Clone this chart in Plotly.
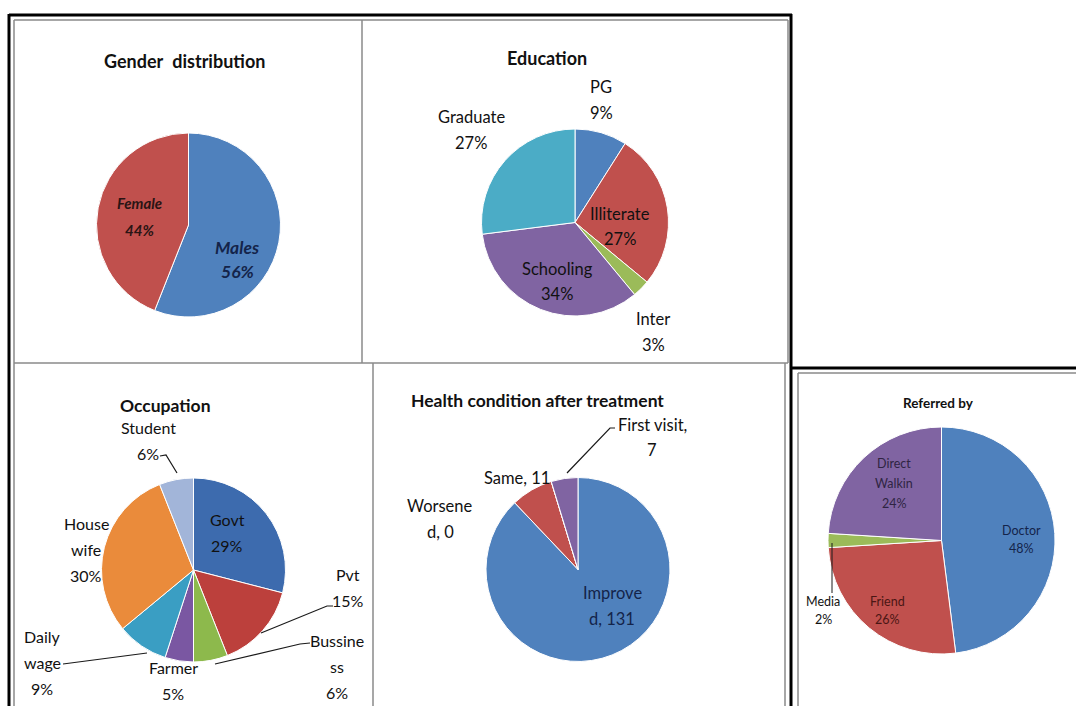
import plotly.graph_objects as go

W, H = 1076, 706
FONT = "Lato"

# ---- data ----
gender_labels = ["Males", "Female"]
gender_values = [56, 44]

edu_labels = ["PG", "Illiterate", "Inter", "Schooling", "Graduate"]
edu_values = [9, 27, 3, 34, 27]

occ_labels = ["Govt", "Pvt", "Bussiness", "Farmer", "Daily wage", "House wife", "Student"]
occ_values = [29, 15, 6, 5, 9, 30, 6]

health_labels = ["Improved", "Same", "Worsened", "First visit"]
health_values = [131, 11, 0, 7]

ref_labels = ["Doctor", "Friend", "Media", "Direct Walkin"]
ref_values = [48, 26, 2, 24]

# ---- colours ----
BLUE, RED, GREEN, PURPLE, AQUA, ORANGE = "#4F81BD", "#C0504D", "#9BBB59", "#8064A2", "#4BACC6", "#F79646"
gender_colors = [BLUE, RED]
edu_colors = [BLUE, RED, GREEN, PURPLE, AQUA]
occ_colors = ["#3D6BAE", "#BC403C", "#8DB94C", "#7A57A2", "#3A9EC3", "#EA8B3B", "#A2B5D9"]
health_colors = [BLUE, RED, GREEN, PURPLE]
ref_colors = [BLUE, RED, GREEN, PURPLE]
TEXT = "#111111"


def X(px):
    return px / W


def Y(py):
    return 1 - py / H


def domain(cx, cy, d):
    return dict(x=[X(cx - d / 2), X(cx + d / 2)], y=[Y(cy + d / 2), Y(cy - d / 2)])


fig = go.Figure()


def add_pie(labels, values, colors, cx, cy, d, line_color="white", line_width=1):
    fig.add_trace(go.Pie(
        labels=labels, values=values, sort=False, direction="clockwise", rotation=0,
        marker=dict(colors=colors, line=dict(color=line_color, width=line_width)),
        textinfo="none", hoverinfo="label+value+percent",
        domain=domain(cx, cy, d), showlegend=False,
    ))


def text_block(lines, cx, cy, size, spacing, color=TEXT, bold=False, italic=False):
    n = len(lines)
    for i, ln in enumerate(lines):
        t = ln
        if bold:
            t = f"<b>{t}</b>"
        if italic:
            t = f"<i>{t}</i>"
        yy = cy + (i - (n - 1) / 2) * spacing
        fig.add_annotation(x=X(cx), y=Y(yy), xref="paper", yref="paper", text=t,
                           showarrow=False, xanchor="center", yanchor="middle",
                           font=dict(family=FONT, size=size, color=color))


def split_word(name, at):
    return [name[:at], name[at:]]


def line(pts, color="#1a1a1a", width=1.2):
    path = "M " + " L ".join(f"{X(a)},{Y(b)}" for a, b in pts)
    fig.add_shape(type="path", path=path, xref="paper", yref="paper",
                  line=dict(color=color, width=width))


def seg(x0, y0, x1, y1, color, width):
    fig.add_shape(type="line", xref="paper", yref="paper",
                  x0=X(x0), y0=Y(y0), x1=X(x1), y1=Y(y1),
                  line=dict(color=color, width=width))


# ---- frames ----
GREY = "#8a8a8a"
seg(14, 20, 788, 20, GREY, 1.5)
seg(14, 20, 14, 706, GREY, 1.5)
seg(788, 20, 788, 363, GREY, 1.5)
seg(362, 20, 362, 363, GREY, 1.5)
seg(14, 363, 788, 363, GREY, 1.5)
seg(373, 363, 373, 706, GREY, 1.5)
seg(785, 363, 785, 706, GREY, 1.5)
seg(798, 373, 1076, 373, GREY, 1.5)
seg(798, 373, 798, 706, GREY, 1.5)
seg(9, 15, 792, 15, "black", 3)
seg(9, 14, 9, 706, "black", 3)
seg(791, 14, 791, 706, "black", 3)
seg(791, 368, 1076, 368, "black", 3)

# ---- Gender distribution ----
add_pie(gender_labels, gender_values, gender_colors, 188.5, 225, 184)
text_block(["Gender\u2002distribution"], 184, 61, 18, 0, bold=True)
g = dict(zip(gender_labels, gender_values))
text_block(["Males", f"{g['Males']}%"], 237, 259.5, 17.5, 25, color="#14244a", bold=True, italic=True)
text_block(["Female", f"{g['Female']}%"], 139, 216.5, 15, 27, color="#2a1414", bold=True, italic=True)

# ---- Education ----
add_pie(edu_labels, edu_values, edu_colors, 575, 222.5, 187)
text_block(["Education"], 547, 58, 18, 0, bold=True)
edu_pos = {"PG": (601, 100), "Illiterate": (620, 226.5), "Inter": (653, 332),
           "Schooling": (557, 281.5), "Graduate": (471, 129.5)}
for lab, val in zip(edu_labels, edu_values):
    cx, cy = edu_pos[lab]
    text_block([lab, f"{val}%"], cx, cy, 16.5, 26)

# ---- Occupation ----
add_pie(occ_labels, occ_values, occ_colors, 193.5, 570, 184)
text_block(["Occupation"], 165, 405, 17.5, 0, bold=True)
occ_pos = {"Govt": (227, 532), "Pvt": (348, 587.5), "Bussiness": (337, 666),
           "Farmer": (173, 680.5), "Daily wage": (42, 662.5), "House wife": (86, 549.5),
           "Student": (148, 440.5)}
for lab, val in zip(occ_labels, occ_values):
    if lab == "Bussiness":
        name_lines = split_word(lab, 7)
    else:
        name_lines = lab.split(" ")
    cx, cy = occ_pos[lab]
    text_block(name_lines + [f"{val}%"], cx, cy, 16, 26)
line([(160, 456), (166, 455), (177, 473)])
line([(333, 606), (327, 606), (261, 633)])
line([(310, 643), (300, 644), (215, 664)])
line([(63, 664), (147, 653)])

# ---- Health condition after treatment ----
add_pie(health_labels, health_values, health_colors, 578, 569.5, 184)
text_block(["Health condition after treatment"], 537, 400, 17.5, 0, bold=True)
h = dict(zip(health_labels, health_values))
text_block(split_word(f"Improved, {h['Improved']}", 7), 612, 606, 16.5, 26, color="#14244a")
text_block([f"Same, {h['Same']}"], 517, 478, 16.5, 26)
text_block(split_word(f"Worsened, {h['Worsened']}", 7), 440, 519, 16.5, 26)
text_block(["First visit,", f"{h['First visit']}"], 652, 437.5, 16.5, 25)
line([(615, 428), (610, 428), (567, 473)])

# ---- Referred by ----
add_pie(ref_labels, ref_values, ref_colors, 941.5, 540.5, 227)
text_block(["Referred by"], 938, 403, 13.5, 0, bold=True)
r = dict(zip(ref_labels, ref_values))
text_block(["Doctor", f"{r['Doctor']}%"], 1021, 539, 12.5, 18, color="#14244a")
text_block(["Friend", f"{r['Friend']}%"], 887, 610, 12.5, 18, color="#4a1614")
text_block(["Media", f"{r['Media']}%"], 823, 610, 12.5, 18)
text_block(["Direct", "Walkin", f"{r['Direct Walkin']}%"], 894, 483, 12.5, 20, color="#2f2442")
line([(832, 593), (832, 543)], width=1)

fig.update_layout(
    width=W, height=H,
    margin=dict(l=0, r=0, t=0, b=0),
    paper_bgcolor="white", plot_bgcolor="white",
    showlegend=False,
)

fig.write_html("out.html")
